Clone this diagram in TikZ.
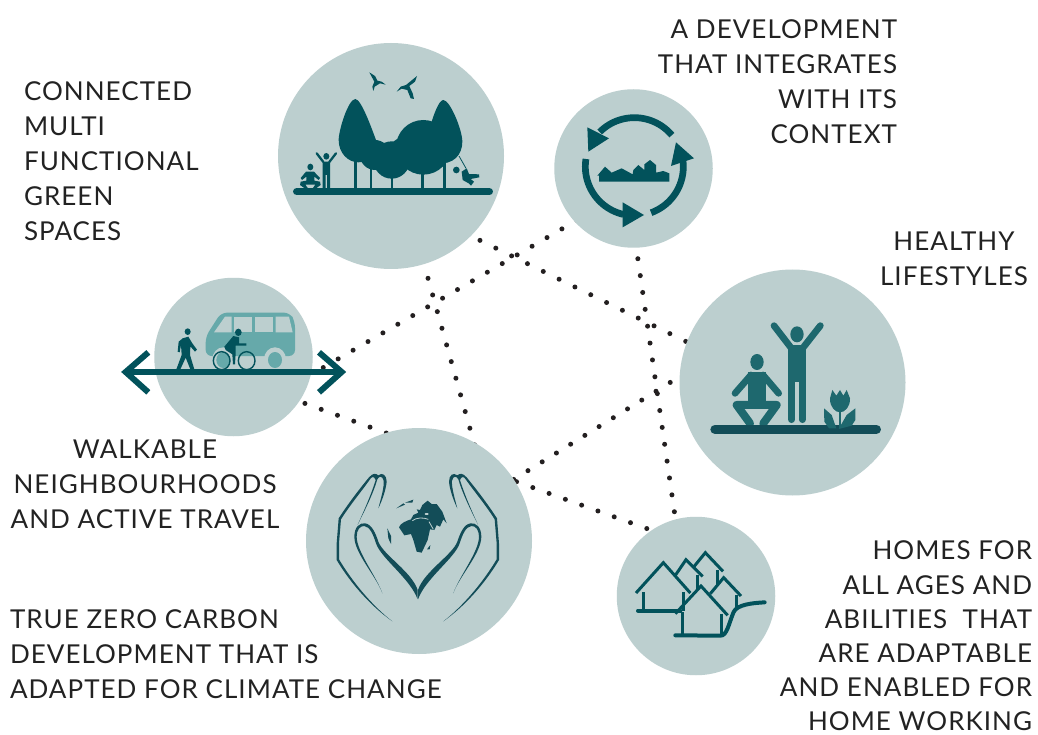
\documentclass[tikz,border=0pt]{standalone}
\usepackage{fontspec}
\setmainfont{Lato}[LetterSpace=4]
\usetikzlibrary{backgrounds}
\definecolor{disc}{HTML}{BCCFCF}
\definecolor{deep}{HTML}{02525B}
\definecolor{bustone}{HTML}{66A9AA}
\definecolor{body}{HTML}{1E686E}
\definecolor{soil}{HTML}{134D58}
\definecolor{dotcol}{HTML}{231F20}
\definecolor{inktxt}{HTML}{222222}
\tikzset{
  disc big/.style={circle,fill=disc,inner sep=0pt,outer sep=0pt,minimum size=226pt},
  disc small/.style={circle,fill=disc,inner sep=0pt,outer sep=0pt,minimum size=158.5pt},
  link/.style={line width=5pt,line cap=round,dotcol,shorten >=-3pt},
  lbl/.style={inner sep=0pt,outer sep=0pt,text=inktxt,font=\fontsize{26}{35}\selectfont},
  icon/.style={x=0.33333pt,y=-0.33333pt},
  ink/.style={deep,line cap=round,line join=round},
}
\begin{document}
\begin{tikzpicture}[x=1pt,y=-1pt]
\useasboundingbox (0,0) rectangle (1038,735);
% discs
\node[disc big]   (trees)   at (391,156) {};
\node[disc small] (cycle)   at (633.5,168.5) {};
\node[disc small] (bus)     at (233.5,357) {};
\node[disc big]   (healthy) at (792.5,382.5) {};
\node[disc big]   (globe)   at (419,541) {};
\node[disc small] (homes)   at (696,596) {};
% dotted connectors under the discs
\begin{pgfonlayer}{background}
\fill[white] (0,0) rectangle (1038,735);
\draw[link,dash pattern=on 0pt off 17.63pt,dash phase=7.53pt] (trees.-45.2) -- (healthy.159.75);
\draw[link,dash pattern=on 0pt off 17.25pt,dash phase=2.75pt] (bus.-13.1) -- (cycle.222.5);
\draw[link,dash pattern=on 0pt off 17.29pt,dash phase=2.49pt] (trees.-73) -- (globe.61.45);
\draw[link,dash pattern=on 0pt off 17.04pt,dash phase=5.89pt] (cycle.-88.15) -- (homes.105.1);
\draw[link,dash pattern=on 0pt off 16.74pt,dash phase=5.64pt] (healthy.177.3) -- (globe.33.3);
\draw[link,dash pattern=on 0pt off 17.3pt,dash phase=15.5pt] (globe.32.4) -- (homes.124.25);
\draw[link,dash pattern=on 0pt off 17.32pt,dash phase=11.22pt] (bus.-34.05) -- (globe.107.33);
\end{pgfonlayer}
% trees icon
\begin{scope}[shift={(280,40)},icon]
\draw[ink,line width=7.3pt] (50,455) -- (628,455);
\fill[deep] (226,177) .. controls (205,177) and (176,270) .. (176,300) .. controls (176,340) and (205,367) .. (235,367) .. controls (270,367) and (300,340) .. (290,305) .. controls (280,280) and (245,177) .. (226,177) -- cycle;
\fill[deep] (490,180) .. controls (475,180) and (458,235) .. (450,260) -- (470,370) .. controls (520,375) and (547,345) .. (547,305) .. controls (547,270) and (510,180) .. (490,180) -- cycle;
\fill[deep] (285,345) circle[x radius=45,y radius=45];
\fill[deep] (335,360) circle[x radius=55,y radius=56];
\fill[deep] (370,332) circle[x radius=40,y radius=40];
\fill[deep] (430,322) circle[x radius=82,y radius=82];
\fill[deep] (222,360) rectangle (231,445);
\fill[deep] (270,380) rectangle (275,445);
\fill[deep] (333,410) rectangle (338,445);
\fill[deep] (424,398) rectangle (431,445);
\fill[deep] (488,365) rectangle (497,445);
% birds
\fill[deep] (268,97) -- (285,108) -- (292,122) -- (305,125) -- (317,134) -- (300,130) -- (284,140) -- (280,153) -- (277,140) -- (283,125) -- cycle;
\fill[deep] (411,108) -- (405,125) -- (388,138) -- (398,160) -- (402,177) -- (392,175) -- (382,150) -- (365,146) -- (350,155) -- (362,140) -- (378,135) -- cycle;
% standing figure
\fill[deep] (139,349) circle[x radius=9,y radius=10];
\fill[deep] (128,365) -- (150,365) -- (150,445) -- (141,445) -- (141,405) -- (137,405) -- (137,445) -- (128,445) -- cycle;
\draw[ink,line width=2.3pt] (110,340) -- (130,366);
\draw[ink,line width=2.3pt] (168,340) -- (148,366);
% seated figure
\fill[deep] (91,381) circle[x radius=9,y radius=10];
\fill[deep] (78,395) -- (102,395) -- (120,414) -- (116,420) -- (103,410) -- (103,422) -- (120,425) -- (122,435) -- (108,445) -- (98,445) -- (106,434) -- (76,434) -- (84,445) -- (74,445) -- (60,435) -- (62,425) -- (79,422) -- (79,410) -- (66,420) -- (62,414) -- cycle;
% swing
\draw[deep,line width=0.8pt] (537,348) -- (558,385);
\fill[deep] (529,390) circle[x radius=10,y radius=10];
\fill[deep] (545,395) -- (560,385) -- (567,402) -- (597,403) -- (598,412) -- (572,417) -- (582,425) -- (573,437) -- (566,430) -- (548,420) -- cycle;
\end{scope}
% cycle icon
\begin{scope}[shift={(550,85)},icon]
\draw[deep,line width=6.7pt] plot[domain=40:135,samples=30] ({253+147*cos(\x)},{245-147*sin(\x)});
\draw[deep,line width=6.7pt] plot[domain=171:257,samples=30] ({253+147*cos(\x)},{245-147*sin(\x)});
\draw[deep,line width=6.7pt] plot[domain=-70:14,samples=30] ({253+147*cos(\x)},{245-147*sin(\x)});
\fill[deep] (112,127) -- (177,160) -- (115,200) -- cycle;
\fill[deep] (218,352) -- (282,390) -- (218,427) -- cycle;
\fill[deep] (378,172) -- (432,220) -- (363,243) -- cycle;
\fill[deep] (147,290) -- (147,272) -- (142,272) -- (165,245) -- (185,263) -- (215,250) -- (248,268) -- (250,255) -- (265,240) -- (283,255) -- (283,238) -- (300,225) -- (318,240) -- (318,263) -- (340,258) -- (358,265) -- (358,290) -- cycle;
\end{scope}
% bus icon
\begin{scope}[shift={(115,275)},icon]
\fill[bustone,rounded corners=6pt] (272,243) -- (272,185) -- (318,113) -- (525,113) -- (540,140) -- (540,243) -- cycle;
\fill[disc] (297,172) -- (330,125) -- (350,125) -- (350,172) -- cycle;
\fill[disc] (358,125) rectangle (410,172);
\fill[disc] (420,125) rectangle (473,172);
\fill[disc] (482,125) -- (522,125) -- (533,172) -- (482,172) -- cycle;
\fill[disc] (480,253) circle[x radius=33,y radius=36];
\fill[bustone] (480,255) circle[x radius=21,y radius=24];
\fill[disc] (325,253) circle[x radius=33,y radius=36];
\fill[bustone] (325,255) circle[x radius=21,y radius=24];
% walker
\fill[deep] (218,170) circle[x radius=9,y radius=10];
\fill[deep] (203,190) -- (220,185) -- (232,205) -- (246,224) -- (240,230) -- (226,214) -- (225,240) -- (238,283) -- (226,283) -- (212,248) -- (196,283) -- (184,283) -- (200,240) -- (198,210) -- (194,232) -- (188,230) -- (191,200) -- cycle;
% cyclist
\draw[deep,line width=1.4pt] (320,257) circle[x radius=25,y radius=27];
\draw[deep,line width=1.4pt] (395,257) circle[x radius=25,y radius=27];
\fill[deep] (370,172) circle[x radius=10,y radius=11];
\fill[deep] (355,183) -- (372,187) -- (372,205) -- (394,205) -- (394,212) -- (362,212) -- (362,235) -- (360,268) -- (354,268) -- (352,238) -- (332,225) -- (328,215) -- cycle;
% road with arrow heads
\draw[deep,line width=6pt] (45,291) -- (670,291);
\draw[deep,line width=6pt,miter limit=10] (100,232) -- (32,291) -- (100,352);
\draw[deep,line width=6pt,miter limit=10] (612,232) -- (680,291) -- (612,352);
\end{scope}
% healthy icon
\begin{scope}[shift={(675,265)},icon]
\fill[body] (366,208) circle[x radius=20,y radius=24];
\fill[body] (246,291) circle[x radius=20,y radius=24];
\fill[body] (340,240) rectangle (392,350);
\draw[body,line width=6.7pt,line cap=round] (350,345) -- (350,464);
\draw[body,line width=6.7pt,line cap=round] (382,345) -- (382,464);
\draw[body,line width=6.7pt,line cap=round] (297,182) -- (347,247);
\draw[body,line width=6.7pt,line cap=round] (436,182) -- (385,247);
\fill[body] (218,322) rectangle (274,412);
\draw[body,line width=6.7pt,line cap=round] (228,330) -- (180,385);
\draw[body,line width=6.7pt,line cap=round] (264,330) -- (311,385);
\draw[body,line width=8pt,line cap=round,line join=round] (225,475) -- (185,420) -- (305,420) -- (265,475);
\draw[soil,line width=9.3pt,line cap=round] (120,493) -- (604,493);
\fill[body] (465,400) -- (472,375) -- (484,392) -- (495,375) -- (505,392) -- (515,375) -- (525,400) .. controls (526,425) and (510,442) .. (495,442) .. controls (480,442) and (464,425) .. (465,400) -- cycle;
\fill[body] (491,440) rectangle (498,490);
\fill[body] (447,430) -- (470,450) -- (484,490) -- (462,490) -- (448,470) -- cycle;
\fill[body] (541,430) -- (515,450) -- (491,492) -- (530,482) -- (541,465) -- cycle;
\end{scope}
% globe icon
\begin{scope}[shift={(305,430)},icon]
\foreach \mx/\sx in {0/1,677/-1}{
\begin{scope}[xshift=\mx*0.33333pt,xscale=\sx]
\fill[soil] (262,574) .. controls (200,530) and (140,465) .. (95,390) -- (95,340) -- (101,265) .. controls (130,220) and (165,175) .. (192,142) .. controls (205,128) and (212,130) .. (220,136) .. controls (232,126) and (245,135) .. (245,155) .. controls (243,180) and (230,215) .. (220,235) .. controls (228,205) and (238,170) .. (236,152) .. controls (232,136) and (222,138) .. (217,148) .. controls (205,190) and (180,240) .. (158,284) .. controls (178,240) and (198,195) .. (212,150) .. controls (207,137) and (200,140) .. (195,148) .. controls (165,190) and (135,225) .. (108,268) -- (102,340) -- (102,388) .. controls (145,460) and (205,530) .. (262,574) -- cycle;
\fill[soil] (232,490) .. controls (215,440) and (148,370) .. (148,320) .. controls (148,290) and (165,278) .. (180,280) .. controls (200,282) and (212,310) .. (220,335) .. controls (235,375) and (320,425) .. (338,480) -- (338,508) .. controls (315,445) and (228,385) .. (213,340) .. controls (205,315) and (195,290) .. (178,288) .. controls (165,287) and (155,300) .. (155,320) .. controls (155,365) and (215,440) .. (232,490) -- cycle;
\end{scope}}
\fill[soil] (282,292) .. controls (285,280) and (305,272) .. (318,268) -- (325,255) -- (340,248) -- (335,238) -- (345,240) -- (352,225) -- (368,212) -- (380,222) -- (395,222) -- (412,245) -- (425,280) -- (415,268) -- (405,290) -- (395,285) -- (388,300) -- (375,298) -- (368,330) -- (350,368) -- (335,365) -- (325,330) -- (318,312) -- (298,316) -- cycle;
\draw[disc,line width=0.8pt] (322,272) .. controls (335,262) and (355,262) .. (370,268);
\draw[disc,line width=0.8pt] (372,275) -- (385,298);
\fill[disc] (365,252) circle[x radius=6,y radius=3];
\fill[soil] (274,235) -- (295,220) -- (300,224) -- cycle;
\fill[soil] (300,218) -- (325,209) -- (322,218) -- cycle;
\fill[soil] (247,295) -- (258,318) -- (258,342) -- (250,325) -- cycle;
\fill[soil] (366,358) -- (376,345) -- (374,358) -- cycle;
\end{scope}
% homes icon
\begin{scope}[shift={(612,512)},icon,every path/.style={deep,line width=3pt,line join=miter}]
\draw (72,243) -- (154,152) -- (235,243);
\draw (93,240) -- (93,295);
\draw (213,240) -- (213,298);
\draw (190,190) -- (222,143) -- (272,193);
\draw (255,190) -- (255,235);
\draw (245,165) -- (280,122) -- (333,178);
\draw (315,175) -- (315,218);
\draw (295,245) -- (335,197) -- (387,252);
\draw (372,250) -- (372,285);
\draw (190,305) -- (267,222) -- (347,310);
\draw (210,300) -- (210,368);
\draw (327,305) -- (327,368);
\draw[line width=4pt,line cap=round] (78,296) -- (205,296);
\draw[line width=4pt,line cap=round] (190,370) -- (325,371) .. controls (345,372) and (350,335) .. (365,300) .. controls (375,278) and (420,273) .. (458,271);
\end{scope}
% labels
\node[lbl,anchor=north west,align=left] (l1) at (24,82) {CONNECTED\\MULTI\\FUNCTIONAL\\GREEN\\SPACES};
\node[lbl,anchor=north east,align=right] (l2) at (897,20) {A DEVELOPMENT\\THAT INTEGRATES\\WITH ITS\\CONTEXT};
\node[lbl,anchor=north,align=center] (l3) at (954,232) {HEALTHY\\LIFESTYLES};
\node[lbl,anchor=north,align=center] (l4) at (145,440) {WALKABLE\\NEIGHBOURHOODS\\AND ACTIVE TRAVEL};
\node[lbl,anchor=north west,align=left] (l5) at (10,610) {TRUE ZERO CARBON\\DEVELOPMENT THAT IS\\ADAPTED FOR CLIMATE CHANGE};
\node[lbl,font=\fontsize{26}{34.2}\selectfont,anchor=north east,align=right] (l6) at (1032,541) {HOMES FOR\\ALL AGES AND\\ABILITIES\ \ THAT\\ARE ADAPTABLE\\AND ENABLED FOR\\HOME WORKING};
\end{tikzpicture}
\end{document}
